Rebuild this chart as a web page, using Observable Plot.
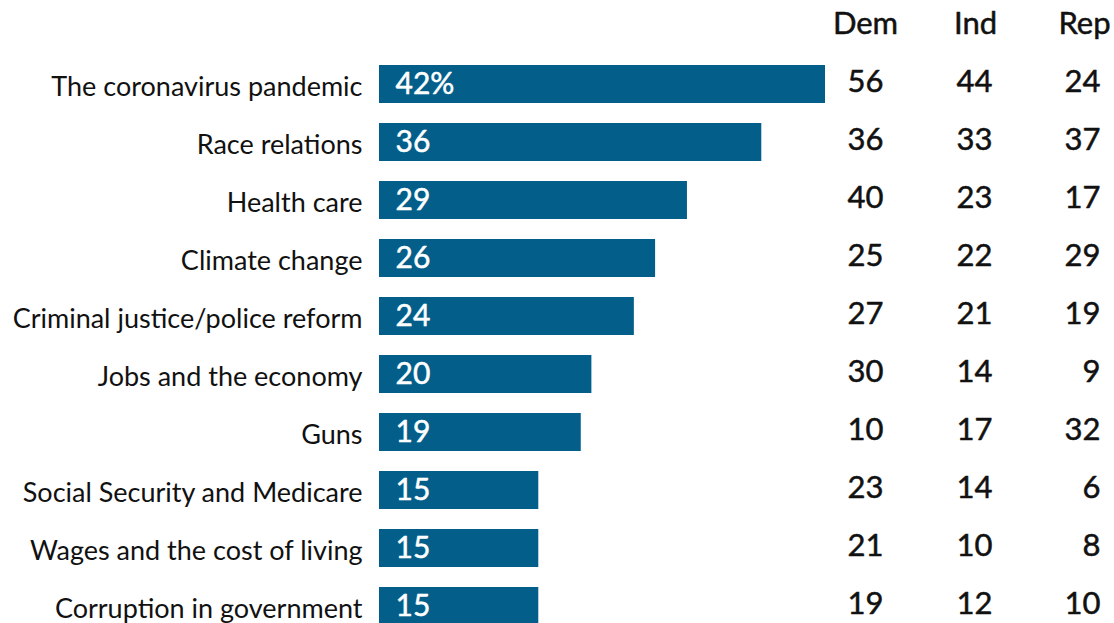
<!DOCTYPE html>
<html><head><meta charset="utf-8">
<script src="https://cdn.jsdelivr.net/npm/d3@7"></script>
<script src="https://cdn.jsdelivr.net/npm/@observablehq/plot@0.6"></script>
<style>body{margin:0;background:#fff} svg{display:block}</style>
</head><body><div id="chart"></div>
<script>
const categories = [
  "The coronavirus pandemic",
  "Race relations",
  "Health care",
  "Climate change",
  "Criminal justice/police reform",
  "Jobs and the economy",
  "Guns",
  "Social Security and Medicare",
  "Wages and the cost of living",
  "Corruption in government"
];
const total = [42, 36, 29, 26, 24, 20, 19, 15, 15, 15];
const dem = [56, 36, 40, 25, 27, 30, 10, 23, 21, 19];
const ind = [44, 33, 23, 22, 21, 14, 17, 14, 10, 12];
const rep = [24, 37, 17, 29, 19, 9, 32, 6, 8, 10];
const parties = ["Dem", "Ind", "Rep"];
const partyValues = [dem, ind, rep];

const rows = categories.map((c, i) => ({issue: c, total: total[i], dem: dem[i], ind: ind[i], rep: rep[i]}));
const font = "Lato, 'Noto Sans', sans-serif";
const colOffsets = [-217, -108, 0];
const headOffsets = [-235, -125, -16];
const ink = "#111";

const chart = Plot.plot({
  width: 1114, height: 623,
  marginTop: 0, marginRight: 14, marginLeft: 379, marginBottom: 0,
  style: {fontFamily: font, background: "#fff", color: ink},
  x: {domain: [0, 42], range: [379, 825], axis: null},
  y: {domain: categories, range: [44, 645], padding: 0.345, axis: null},
  marks: [
    Plot.barX(rows, {x: "total", y: "issue", fill: "#035f8a"}),
    Plot.axisY({anchor: "left", tickSize: 0, tickPadding: 17, fontSize: 27, dy: 3, label: null, fill: ink, stroke: ink, strokeWidth: 0.45}),
    Plot.text(rows, {y: "issue", text: (d, i) => i === 0 ? d.total + "%" : String(d.total), frameAnchor: "left", textAnchor: "start", dx: 16, fill: "#fff", stroke: "#fff", strokeWidth: 0.5, fontSize: 30}),
    ...parties.map((p, k) => Plot.text(rows, {y: "issue", text: (d, i) => String(partyValues[k][i]), frameAnchor: "right", textAnchor: "end", dx: colOffsets[k], dy: -2, fontSize: 31, fill: ink, stroke: ink, strokeWidth: 0.5})),
    ...parties.map((p, k) => Plot.text([p], {text: d => d, frameAnchor: "top-right", textAnchor: "middle", lineAnchor: "middle", dx: headOffsets[k], dy: 24, fontSize: 31, fill: ink, stroke: ink, strokeWidth: 0.5}))
  ]
});
document.getElementById("chart").appendChild(chart);
</script>
</body></html>
